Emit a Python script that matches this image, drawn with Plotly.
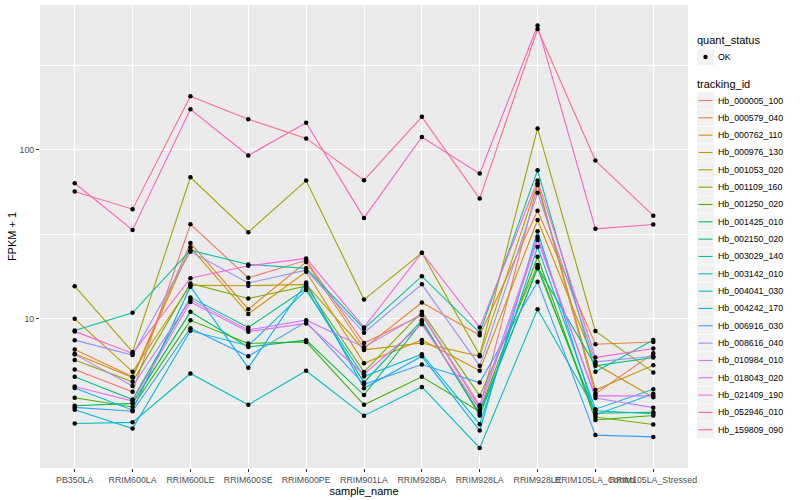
import plotly.graph_objects as go

samples = ["PB350LA", "RRIM600LA", "RRIM600LE", "RRIM600SE", "RRIM600PE", "RRIM901LA",
           "RRIM928BA", "RRIM928LA", "RRIM928LE", "RRIM105LA_Control", "RRIM105LA_Stressed"]

tracking_ids = ["Hb_000005_100", "Hb_000579_040", "Hb_000762_110", "Hb_000976_130", "Hb_001053_020",
                "Hb_001109_160", "Hb_001250_020", "Hb_001425_010", "Hb_002150_020", "Hb_003029_140",
                "Hb_003142_010", "Hb_004041_030", "Hb_004242_170", "Hb_006916_030", "Hb_008616_040",
                "Hb_010984_010", "Hb_018043_020", "Hb_021409_190", "Hb_052946_010", "Hb_159809_090"]

colors = ["#F8766D", "#EA8331", "#D89000", "#C09B00", "#A3A500", "#7CAE00", "#39B600", "#00BB4E",
          "#00BF7D", "#00C1A3", "#00BFC4", "#00BAE0", "#00B0F6", "#35A2FF", "#9590FF", "#C77CFF",
          "#E76BF3", "#FA62DB", "#FF62BC", "#FF6C91"]

# FPKM + 1 values, one list per tracking_id, in sample order
Hb_000005_100 = [5.02, 3.70, 36.3, 17.5, 22.2, 7.2, 10.5, 3.0, 62.0, 3.6, 6.25]
Hb_000579_040 = [6.59, 4.54, 28.1, 11.4, 21.7, 6.7, 12.5, 8.0, 43.6, 7.08, 7.3]
Hb_000762_110 = [6.21, 4.50, 26.5, 10.7, 19.0, 5.45, 7.5, 4.93, 38.5, 5.4, 3.43]
Hb_000976_130 = [10.0, 4.86, 15.8, 15.7, 16.0, 6.55, 7.2, 6.0, 63.5, 3.79, 5.32]
Hb_001053_020 = [15.6, 6.37, 68.9, 32.6, 65.9, 13.0, 24.6, 6.1, 134.0, 8.46, 4.82]
Hb_001109_160 = [5.70, 4.24, 16.2, 13.2, 15.6, 4.85, 11.0, 3.5, 20.8, 2.62, 2.37]
Hb_001250_020 = [3.41, 3.01, 9.8, 7.15, 7.3, 3.1, 4.54, 2.82, 23.3, 2.52, 2.68]
Hb_001425_010 = [3.06, 3.16, 11.0, 6.82, 7.48, 3.54, 9.6, 2.75, 19.9, 2.76, 2.8]
Hb_002150_020 = [4.54, 3.33, 13.4, 8.9, 15.1, 4.2, 9.8, 2.68, 20.2, 5.27, 5.9]
Hb_003029_140 = [8.54, 10.85, 25.5, 21.0, 19.9, 8.75, 17.9, 8.27, 75.9, 4.86, 7.5]
Hb_003142_010 = [2.40, 2.44, 4.75, 3.10, 4.93, 2.67, 3.95, 1.72, 11.4, 2.86, 2.74]
Hb_004041_030 = [2.90, 2.24, 8.5, 6.93, 14.8, 4.55, 6.17, 2.38, 26.7, 2.92, 3.83]
Hb_004242_170 = [3.90, 2.88, 15.5, 5.13, 16.4, 3.88, 6.0, 2.18, 33.0, 2.7, 3.6]
Hb_006916_030 = [2.99, 2.84, 8.8, 6.0, 9.6, 4.1, 5.37, 4.2, 16.6, 2.05, 2.0]
Hb_008616_040 = [7.48, 6.10, 25.0, 16.3, 19.4, 8.27, 16.0, 5.27, 55.7, 5.56, 6.0]
Hb_010984_010 = [6.16, 4.00, 13.0, 8.6, 9.82, 6.8, 10.7, 3.08, 30.6, 3.4, 2.98]
Hb_018043_020 = [3.98, 3.26, 12.6, 8.4, 9.4, 4.7, 9.3, 2.9, 29.3, 3.5, 3.5]
Hb_021409_190 = [8.43, 6.24, 17.4, 20.6, 22.8, 8.9, 24.6, 8.9, 66.0, 5.9, 6.68]
Hb_052946_010 = [63.5, 33.6, 174.0, 92.7, 145.0, 39.6, 119.4, 72.4, 545.0, 34.1, 36.2]
Hb_159809_090 = [56.8, 44.6, 208.0, 152.0, 117.0, 66.2, 157.0, 51.5, 520.0, 86.5, 40.8]

series = [Hb_000005_100, Hb_000579_040, Hb_000762_110, Hb_000976_130, Hb_001053_020,
          Hb_001109_160, Hb_001250_020, Hb_001425_010, Hb_002150_020, Hb_003029_140,
          Hb_003142_010, Hb_004041_030, Hb_004242_170, Hb_006916_030, Hb_008616_040,
          Hb_010984_010, Hb_018043_020, Hb_021409_190, Hb_052946_010, Hb_159809_090]

quant_status = ["OK"]

FONT = "Liberation Sans, Arial, Helvetica, sans-serif"
W, H = 800, 500
ML, MR, MT, MB = 40, 112, 5, 32
PW, PH = W - ML - MR, H - MT - MB


def px(xp):
    return (xp - ML) / PW


def py(yp):
    return (H - MB - yp) / PH


fig = go.Figure()

for name, vals, col in zip(tracking_ids, series, colors):
    fig.add_trace(go.Scatter(
        x=samples, y=vals, mode="lines", name=name,
        line=dict(color=col, width=1.1), showlegend=False,
    ))

all_x = [s for _ in series for s in samples]
all_y = [v for vals in series for v in vals]
fig.add_trace(go.Scatter(
    x=all_x, y=all_y, mode="markers", name=quant_status[0],
    marker=dict(color="black", size=4.5), showlegend=False,
))

# ---- ggplot-like legend drawn in paper space ----
shapes = []
annotations = []
KX0, KX1 = 697, 714


def key_box(cy):
    shapes.append(dict(type="rect", xref="paper", yref="paper",
                       x0=px(KX0), x1=px(KX1), y0=py(cy + 8.3), y1=py(cy - 8.3),
                       fillcolor="#F2F2F2", line=dict(width=0), layer="above"))


def label(text, x, cy, size, color="#000000"):
    annotations.append(dict(text=text, xref="paper", yref="paper", x=px(x), y=py(cy),
                            xanchor="left", yanchor="middle", showarrow=False,
                            font=dict(size=size, color=color, family=FONT)))


label("quant_status", 695, 40.5, 11)
key_box(57)
shapes.append(dict(type="circle", xref="paper", yref="paper",
                   x0=px(703.3), x1=px(707.7), y0=py(59.2), y1=py(54.8),
                   fillcolor="black", line=dict(width=0), layer="above"))
label(quant_status[0], 716, 57, 8.8)

label("tracking_id", 695, 84.5, 11)
for i, (name, col) in enumerate(zip(tracking_ids, colors)):
    cy = 100.5 + i * 17.33
    key_box(cy)
    shapes.append(dict(type="line", xref="paper", yref="paper",
                       x0=px(698.5), x1=px(712.5), y0=py(cy), y1=py(cy),
                       line=dict(color=col, width=1.1), layer="above"))
    label(name, 716, cy, 8.8)

fig.update_layout(
    width=W, height=H,
    margin=dict(l=ML, r=MR, t=MT, b=MB, autoexpand=False),
    paper_bgcolor="white",
    plot_bgcolor="#EBEBEB",
    font=dict(family=FONT, size=9, color="#000000"),
    showlegend=False,
    shapes=shapes,
    annotations=annotations,
    xaxis=dict(
        type="category", categoryorder="array", categoryarray=samples,
        range=[-0.6, 10.6],
        showgrid=True, gridcolor="white", gridwidth=1.1,
        ticks="outside", ticklen=3, tickcolor="#333333", tickwidth=1,
        tickangle=0,
        tickfont=dict(size=8.8, color="#4D4D4D"),
        title=dict(text="sample_name", font=dict(size=11, color="#000000"), standoff=1),
        zeroline=False, showline=False,
    ),
    yaxis=dict(
        type="log",
        range=[0.117, 2.858],
        tickmode="array", tickvals=[10, 100], ticktext=["10", "100"],
        showgrid=True, gridcolor="white", gridwidth=1.1,
        minor=dict(tickmode="array", tickvals=[3.1623, 31.623, 316.23],
                   showgrid=True, gridcolor="white", gridwidth=0.5, ticklen=0),
        ticks="outside", ticklen=3, tickcolor="#333333", tickwidth=1,
        tickfont=dict(size=8.8, color="#4D4D4D"),
        title=dict(text="FPKM + 1", font=dict(size=11, color="#000000"), standoff=0),
        zeroline=False, showline=False,
    ),
)

fig.write_html("out.html", config={"displayModeBar": False},
               post_script="document.body.style.margin='0';document.body.style.overflow='hidden';")
